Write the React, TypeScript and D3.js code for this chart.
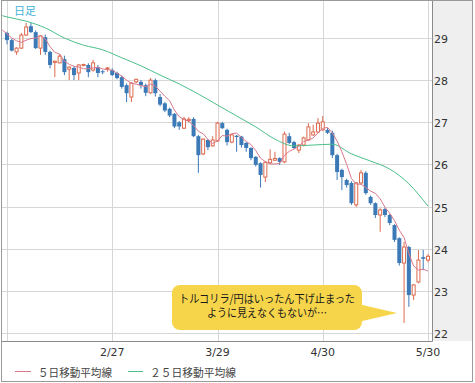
import React from "react";
import * as d3 from "d3";

const dateTickIdx = [22, 44, 66, 88];
const dateLabels = ["2/27", "3/29", "4/30", "5/30"];
const priceTicks = [22, 23, 24, 25, 26, 27, 28, 29];

const opens = [
  29.12, 28.95, 28.67, 28.76, 29.07, 29.28, 29.14, 28.76, 29.02, 28.67,
  28.42, 28.41, 28.50, 28.26, 28.29, 28.17, 28.35, 28.36, 28.24, 28.31,
  28.21, 28.27, 28.24, 28.17, 28.07, 27.88, 27.60, 27.96, 27.96, 27.88,
  27.70, 28.00, 27.60, 27.45, 27.32, 27.20, 27.00, 26.86, 27.04, 27.08,
  26.67, 26.25, 26.58, 26.44, 26.56, 26.98, 26.82, 26.53, 26.68, 26.66,
  26.51, 26.39, 26.18, 26.03, 25.70, 26.04, 26.10, 26.15, 26.06, 26.67,
  26.53, 26.34, 26.46, 26.58, 26.70, 26.77, 26.82, 26.82, 26.75, 26.22,
  25.87, 25.63, 25.56, 25.04, 25.56, 25.80, 25.23, 25.08, 24.80, 24.94,
  24.80, 24.56, 24.25, 23.66, 24.04, 22.90, 23.21, 23.80, 23.73,
];
const highs = [
  29.15, 28.98, 28.78, 29.12, 29.36, 29.36, 29.18, 29.07, 29.08, 28.70,
  28.46, 28.62, 28.58, 28.33, 28.33, 28.38, 28.39, 28.40, 28.48, 28.36,
  28.24, 28.31, 28.28, 28.20, 28.10, 27.92, 27.95, 28.03, 28.00, 27.92,
  28.05, 28.04, 27.67, 27.48, 27.35, 27.22, 27.03, 27.13, 27.12, 27.12,
  26.70, 26.62, 26.60, 26.67, 27.01, 27.01, 26.85, 26.72, 26.70, 26.68,
  26.53, 26.41, 26.20, 26.05, 26.08, 26.36, 26.30, 26.17, 26.78, 26.75,
  26.56, 26.48, 26.66, 26.98, 26.94, 27.10, 27.15, 26.86, 26.80, 26.25,
  25.90, 25.66, 25.60, 25.58, 25.87, 25.84, 25.26, 25.10, 24.96, 24.97,
  24.83, 24.58, 24.27, 24.16, 24.07, 23.16, 23.97, 23.97, 23.87,
];
const lows = [
  28.85, 28.68, 28.60, 28.74, 29.05, 29.12, 28.74, 28.60, 28.60, 28.28,
  28.07, 28.40, 28.12, 28.00, 28.00, 28.00, 28.33, 28.07, 28.20, 28.07,
  28.14, 28.20, 28.10, 28.02, 27.80, 27.48, 27.48, 27.93, 27.80, 27.62,
  27.68, 27.61, 27.38, 27.24, 27.12, 26.86, 26.82, 26.84, 27.00, 26.65,
  25.80, 26.22, 26.34, 26.42, 26.54, 26.84, 26.45, 26.50, 26.30, 26.40,
  26.30, 26.10, 25.95, 25.45, 25.58, 26.02, 26.08, 25.99, 26.03, 26.48,
  26.36, 26.27, 26.43, 26.56, 26.68, 26.75, 26.80, 26.72, 26.15, 25.63,
  25.39, 25.45, 25.04, 24.99, 25.52, 25.28, 25.04, 24.73, 24.40, 24.75,
  24.56, 24.16, 23.60, 22.24, 22.62, 22.78, 23.18, 23.49, 23.68,
];
const closes = [
  28.95, 28.70, 28.76, 29.07, 29.26, 29.14, 28.76, 29.05, 28.67, 28.36,
  28.45, 28.57, 28.19, 28.31, 28.12, 28.36, 28.37, 28.19, 28.41, 28.17,
  28.19, 28.29, 28.12, 28.05, 27.84, 27.69, 27.93, 28.02, 27.88, 27.70,
  28.00, 27.69, 27.42, 27.28, 27.16, 26.90, 26.90, 27.08, 27.07, 26.67,
  26.22, 26.60, 26.41, 26.58, 26.98, 26.86, 26.53, 26.70, 26.65, 26.46,
  26.39, 26.15, 25.99, 25.75, 26.05, 26.12, 26.14, 26.06, 26.72, 26.51,
  26.39, 26.46, 26.63, 26.89, 26.77, 26.98, 27.01, 26.75, 26.22, 25.82,
  25.70, 25.51, 25.08, 25.56, 25.80, 25.32, 25.08, 24.80, 24.92, 24.80,
  24.61, 24.21, 23.66, 24.04, 22.90, 23.14, 23.73, 23.76, 23.82,
];
// closes before the first visible candle (needed for the 5-day average)
const prevCloses = [29.4, 29.2, 29.1, 29.25, 29.0];

const ma25Idx = [-1, 0, 4, 8, 12, 16, 20, 24, 28, 32, 36, 40, 44, 48, 52, 56, 60, 64, 68, 72, 76, 80, 84, 88];
const ma25Values = [
  29.53, 29.5, 29.4, 29.24, 29.0, 28.83, 28.72, 28.53, 28.34, 28.12, 27.91, 27.67, 27.41,
  27.15, 26.89, 26.6, 26.44, 26.46, 26.48, 26.25, 26.08, 25.89, 25.54, 25.01,
];

const BLUE = "#3b79b7";
const RED = "#dc6a4f";
const MA5C = "#d9798c";
const MA25C = "#4cbf8a";
const GRID = "#d7d7d7";
const FRAME = "#8a8a8a";
const JP = "'Noto Sans CJK JP', 'Noto Sans', sans-serif";
const NUM = "'DejaVu Sans', sans-serif";

export default function App() {
  const x = d3.scaleLinear().domain([0, 88]).range([7, 428]);
  const y = d3.scaleLinear().domain([22, 29]).range([333, 38]);
  const all = [...prevCloses, ...closes];
  // ma5 for index -1 .. 88
  const ma5: [number, number][] = [];
  for (let i = -1; i < closes.length; i++) {
    ma5.push([i, d3.mean(all.slice(i + 1, i + 6)) as number]);
  }
  const line = d3
    .line<[number, number]>()
    .x((d) => x(d[0]))
    .y((d) => y(d[1]));
  const ma5Path = line(ma5) || "";
  const ma25Path =
    d3
      .line<[number, number]>()
      .x((d) => x(d[0]))
      .y((d) => y(d[1]))
      .curve(d3.curveMonotoneX)(ma25Idx.map((i, k) => [i, ma25Values[k]] as [number, number])) || "";

  const bw = 4;
  return (
    <svg
      width={475}
      height={383}
      style={{ position: "fixed", left: 0, top: 0, display: "block", background: "#fff" }}
    >
      <defs>
        <clipPath id="plot">
          <rect x={2} y={1} width={430} height={340} />
        </clipPath>
      </defs>
      <rect x={0} y={0} width={475} height={383} fill="#fff" />
      <rect x={433} y={1} width={40} height={340} fill="#efefef" />
      {priceTicks.map((p) => (
        <line key={"h" + p} x1={2} x2={432} y1={Math.round(y(p)) + 0.5} y2={Math.round(y(p)) + 0.5} stroke={GRID} />
      ))}
      {[0, ...dateTickIdx].map((i) => (
        <line key={"v" + i} x1={Math.round(x(i)) + 0.5} x2={Math.round(x(i)) + 0.5} y1={1} y2={341} stroke={GRID} />
      ))}
      <g clipPath="url(#plot)">
        {closes.map((c, i) => {
          const o = opens[i];
          const up = c >= o;
          const cx = x(i);
          const col = up ? RED : BLUE;
          const top = y(Math.max(o, c));
          const bot = y(Math.min(o, c));
          const h = Math.max(1, bot - top);
          return (
            <g key={"c" + i}>
              <line x1={cx} x2={cx} y1={y(highs[i])} y2={y(lows[i])} stroke={col} strokeWidth={1} />
              {up ? (
                <rect x={cx - bw / 2 + 0.5} y={top} width={bw - 1} height={h} fill="#fff" stroke={col} strokeWidth={1} />
              ) : (
                <rect x={cx - bw / 2} y={top} width={bw} height={h} fill={col} />
              )}
            </g>
          );
        })}
        <path d={ma25Path} fill="none" stroke={MA25C} strokeWidth={1} />
        <path d={ma5Path} fill="none" stroke={MA5C} strokeWidth={1} />
      </g>
      <line x1={1.5} x2={432.5} y1={341.5} y2={341.5} stroke={FRAME} />
      <line x1={432.5} x2={432.5} y1={0.5} y2={341.5} stroke={FRAME} />
      <rect x={1.5} y={0.5} width={471} height={381} fill="none" stroke="#9a9a9a" />
      {priceTicks.map((p) => (
        <text key={"yl" + p} x={434} y={y(p) + 1.5} fontSize={11} fontFamily={NUM} fill="#333" dominantBaseline="central">
          {p}
        </text>
      ))}
      {dateTickIdx.map((i, k) => (
        <text key={"xl" + i} x={x(i)} y={352} fontSize={11} fontFamily={NUM} fill="#333" textAnchor="middle" dominantBaseline="central">
          {dateLabels[k]}
        </text>
      ))}
      <text x={14} y={10} fontSize={11} fontFamily={JP} fill="#3fb2d6" dominantBaseline="central">
        日足
      </text>
      <line x1={15} x2={31} y1={371.5} y2={371.5} stroke={MA5C} />
      <text x={38} y={371.5} fontSize={11} fontFamily={JP} fill="#444" dominantBaseline="central" textLength={74} lengthAdjust="spacingAndGlyphs">
        ５日移動平均線
      </text>
      <line x1={128} x2={143} y1={371.5} y2={371.5} stroke={MA25C} />
      <text x={150} y={371.5} fontSize={11} fontFamily={JP} fill="#444" dominantBaseline="central" textLength={86} lengthAdjust="spacingAndGlyphs">
        ２５日移動平均線
      </text>
      <g>
        <rect x={172} y={285} width={190} height={45} rx={8} fill="#f6d54b" />
        <path d="M358,304 L397,313 L358,322 Z" fill="#f6d54b" />
        <text x={267} y={297.5} fontSize={11.5} fontFamily={JP} fill="#1a1a1a" textAnchor="middle" dominantBaseline="central" textLength={176} lengthAdjust="spacingAndGlyphs">
          トルコリラ/円はいったん下げ止まった
        </text>
        <text x={267} y={312} fontSize={11.5} fontFamily={JP} fill="#1a1a1a" textAnchor="middle" dominantBaseline="central" textLength={120} lengthAdjust="spacingAndGlyphs">
          ように見えなくもないが…
        </text>
      </g>
    </svg>
  );
}
